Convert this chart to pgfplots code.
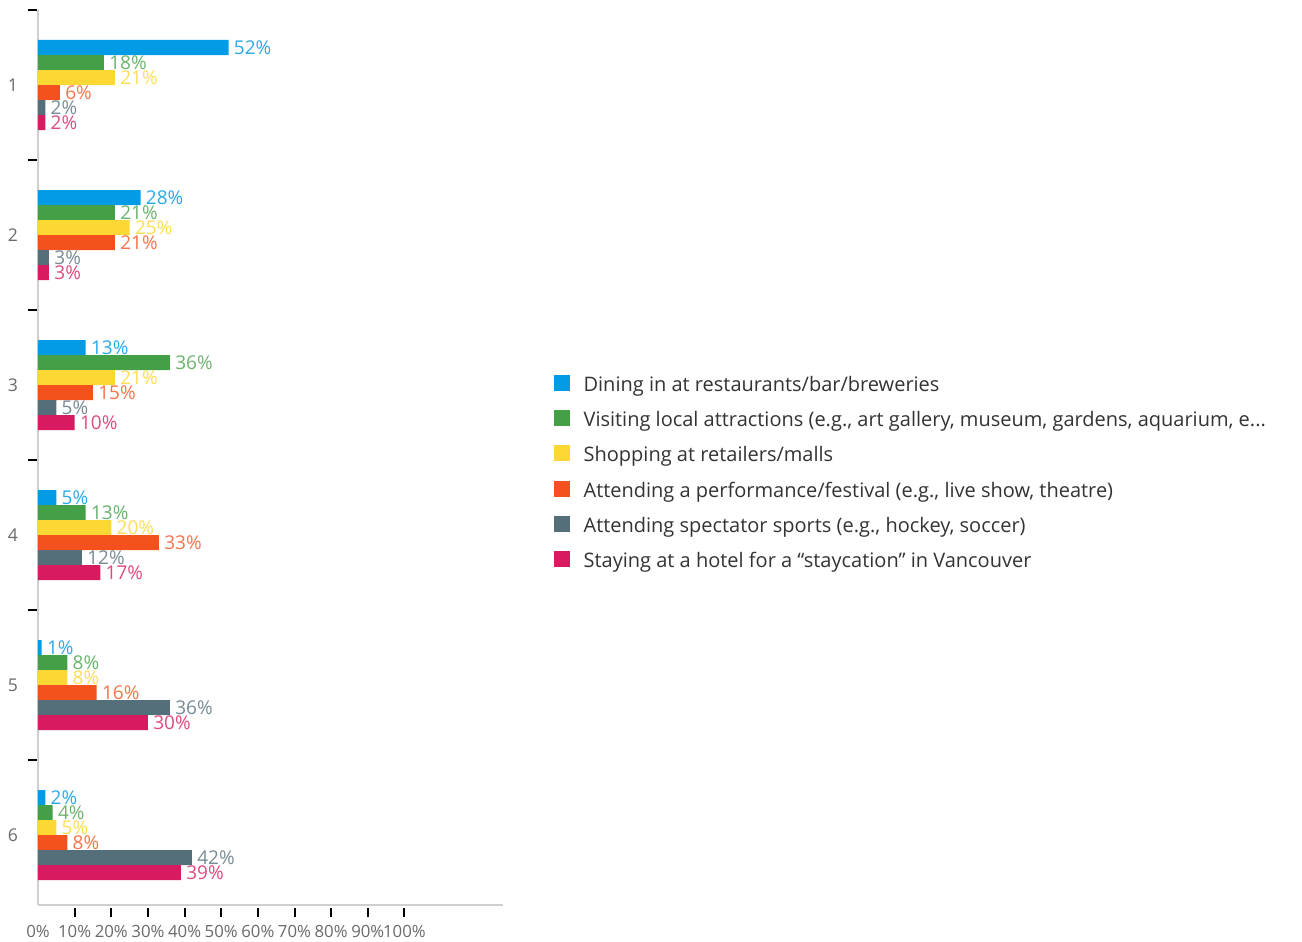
\documentclass[border=0pt]{standalone}
\usepackage{fontspec}
\setmainfont{Open Sans}
\usepackage{pgfplots}
\pgfplotsset{compat=1.18}

% bar colours
\definecolor{cA}{HTML}{039BE5}
\definecolor{cB}{HTML}{43A047}
\definecolor{cC}{HTML}{FDD835}
\definecolor{cD}{HTML}{F4511E}
\definecolor{cE}{HTML}{546E7A}
\definecolor{cF}{HTML}{D81B60}
\definecolor{axisgray}{HTML}{CFCFCF}
\definecolor{ticktext}{HTML}{6A6A6A}
\definecolor{legtext}{HTML}{333333}

\begin{document}
\begin{tikzpicture}
\begin{axis}[
  name=ax,
  scale only axis,
  width=232.5bp,
  height=447.5bp,
  xbar=0pt,
  bar width=7.5bp,
  xmin=0, xmax=126.9,
  ymin=0.5, ymax=6.4667,
  y dir=reverse,
  axis x line*=bottom,
  axis y line*=left,
  axis line style={-, draw=axisgray, line width=0.8bp},
  tick align=outside,
  major tick length=4bp,
  minor tick length=4.5bp,
  major tick style={draw=none},
  minor tick style={black, line width=1bp},
  minor x tick style={yshift=-1.5bp},
  minor y tick style={xshift=-0.5bp},
  xtick={0,10,...,100},
  minor xtick={10,20,...,100},
  ytick={1,...,6},
  minor ytick={0.5,1.5,...,5.5},
  /pgf/number format/assume math mode=true,
  xticklabel={\pgfmathprintnumber{\tick}\%},
  ticklabel style={text=ticktext},
  xticklabel style={font=\fontsize{8.4bp}{10bp}\selectfont, yshift=-2.5bp},
  yticklabel style={font=\fontsize{8.8bp}{10bp}\selectfont, xshift=-2.5bp},
  point meta=x,
  nodes near coords={\pgfmathprintnumber{\pgfplotspointmeta}\%},
  nodes near coords align={horizontal},
  every node near coord/.append style={font=\fontsize{9.5bp}{11bp}\selectfont, anchor=west, inner xsep=2.5bp},
  legend image code/.code={\fill[#1, draw=none] (0bp,-2.625bp) rectangle (8bp,5.375bp);},
  legend cell align=left,
  legend style={draw=none, fill=none, at={(1.1097,0.5922)}, anchor=north west,
    inner sep=0pt, outer sep=0pt, row sep=6.85bp,
    font=\fontsize{10bp}{12bp}\selectfont, text=legtext,
    nodes={inner sep=0pt, text height=8.25bp, text depth=2.5bp},
    /tikz/every odd column/.style={column sep=6.8bp}},
]
\addplot[fill=cA, draw=none, bar shift=18.75bp, every node near coord/.append style={text=cA!85!white}]
  coordinates {(52,1) (28,2) (13,3) (5,4) (1,5) (2,6)};
\addlegendentry{Dining in at restaurants/bar/breweries}
\addplot[fill=cB, draw=none, bar shift=11.25bp, every node near coord/.append style={text=cB!80!white}]
  coordinates {(18,1) (21,2) (36,3) (13,4) (8,5) (4,6)};
\addlegendentry{Visiting local attractions (e.g., art gallery, museum, gardens, aquarium, e...}
\addplot[fill=cC, draw=none, bar shift=3.75bp, every node near coord/.append style={text=cC!85!white}]
  coordinates {(21,1) (25,2) (21,3) (20,4) (8,5) (5,6)};
\addlegendentry{Shopping at retailers/malls}
\addplot[fill=cD, draw=none, bar shift=-3.75bp, every node near coord/.append style={text=cD!80!white}]
  coordinates {(6,1) (21,2) (15,3) (33,4) (16,5) (8,6)};
\addlegendentry{Attending a performance/festival (e.g., live show, theatre)}
\addplot[fill=cE, draw=none, bar shift=-11.25bp, every node near coord/.append style={text=cE!80!white}]
  coordinates {(2,1) (3,2) (5,3) (12,4) (36,5) (42,6)};
\addlegendentry{Attending spectator sports (e.g., hockey, soccer)}
\addplot[fill=cF, draw=none, bar shift=-18.75bp, every node near coord/.append style={text=cF!80!white}]
  coordinates {(2,1) (3,2) (10,3) (17,4) (30,5) (39,6)};
\addlegendentry{Staying at a hotel for a “staycation” in Vancouver}
\end{axis}
\pgfresetboundingbox
\path[use as bounding box] ([shift={(-19bp,-18.5bp)}]ax.south west) rectangle ([shift={(632bp,452.5bp)}]ax.south west);
\end{tikzpicture}
\end{document}
